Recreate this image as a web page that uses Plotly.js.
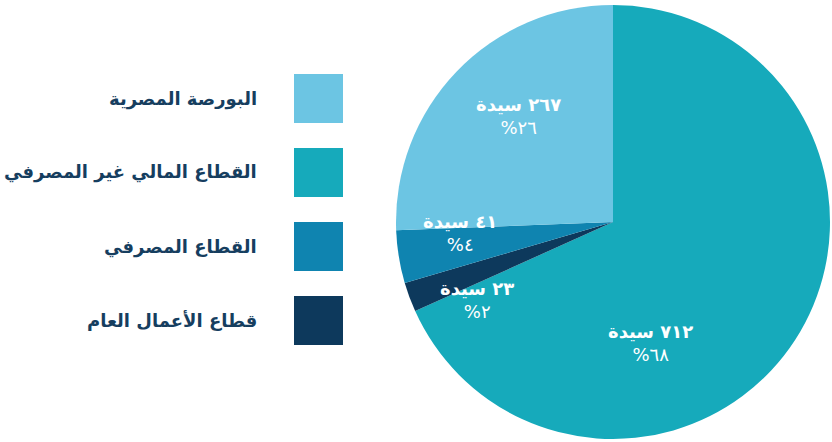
<!DOCTYPE html>
<html>
<head>
<meta charset="utf-8">
<script src="https://cdn.plot.ly/plotly-3.0.1.min.js"></script>
<style>
  html, body { margin: 0; padding: 0; background: #ffffff; }
  #chart { width: 832px; height: 442px; }
</style>
</head>
<body>
<div id="chart"></div>
<script>
// ---- data (legend order) ----
var categories = ["البورصة المصرية", "القطاع المالي غير المصرفي", "القطاع المصرفي", "قطاع الأعمال العام"];
var counts = [267, 712, 41, 23];
var unitWord = "سيدة";

// ---- styling ----
var colors = ["#6CC5E3", "#16AABB", "#0F84B0", "#0D395C"];
var pieOrder = [1, 3, 2, 0];                 // clockwise from 12 o'clock
var labelPos = [[518, 116], [650, 343], [460, 233], [477, 300]]; // pixel centres of slice labels
var W = 832, H = 442;
var cx = 613, cy = 222, R = 217;
var FONT = "DejaVu Sans, sans-serif";

function toArabicDigits(n) {
  var d = "٠١٢٣٤٥٦٧٨٩";
  return String(n).replace(/[0-9]/g, function (c) { return d[+c]; });
}

var total = counts.reduce(function (a, b) { return a + b; }, 0);

var trace = {
  type: "pie",
  labels: pieOrder.map(function (i) { return categories[i]; }),
  values: pieOrder.map(function (i) { return counts[i]; }),
  marker: { colors: pieOrder.map(function (i) { return colors[i]; }), line: { width: 0 } },
  sort: false,
  direction: "clockwise",
  rotation: 0,
  textinfo: "none",
  hoverinfo: "label+value+percent",
  showlegend: false,
  domain: { x: [(cx - R) / W, (cx + R) / W], y: [(H - cy - R) / H, (H - cy + R) / H] }
};

var annotations = [];
var shapes = [];
categories.forEach(function (cat, i) {
  var sqTop = 74 + i * 74, sqSize = 49;
  shapes.push({
    type: "rect", xref: "paper", yref: "paper",
    x0: 294 / W, x1: (294 + sqSize) / W,
    y0: 1 - (sqTop + sqSize) / H, y1: 1 - sqTop / H,
    fillcolor: colors[i], line: { width: 0 }
  });
  annotations.push({
    xref: "paper", yref: "paper", x: 259 / W, y: 1 - (sqTop + sqSize / 2) / H,
    xanchor: "right", yanchor: "middle", showarrow: false,
    text: "<b>" + cat + "</b>",
    font: { family: FONT, size: 18, color: "#163E5F" }
  });
  var pct = Math.round(counts[i] / total * 100);
  annotations.push({
    xref: "paper", yref: "paper", x: labelPos[i][0] / W, y: 1 - labelPos[i][1] / H,
    xanchor: "center", yanchor: "middle", showarrow: false,
    text: "<b>" + toArabicDigits(counts[i]) + " " + unitWord + "</b><br>" + "%" + toArabicDigits(pct),
    font: { family: FONT, size: 18, color: "#ffffff" }
  });
});

var layout = {
  width: W, height: H,
  margin: { l: 0, r: 0, t: 0, b: 0 },
  paper_bgcolor: "#ffffff",
  plot_bgcolor: "#ffffff",
  showlegend: false,
  shapes: shapes,
  annotations: annotations
};

Plotly.newPlot("chart", [trace], layout, { displayModeBar: false, staticPlot: true });
</script>
</body>
</html>
